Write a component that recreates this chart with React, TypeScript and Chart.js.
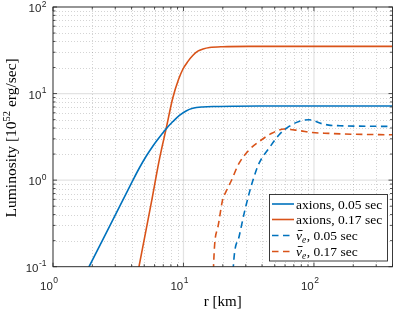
import React, { useEffect, useRef } from "react";
import { Chart, registerables } from "chart.js";

Chart.register(...registerables);

const BLUE = "#0072BD";
const ORANGE = "#D95319";

// axions, 0.05 sec
const axions005R = [1.6, 1.89, 2.9, 4.1, 4.6, 5.19, 5.75, 6.3, 7.4, 8.3, 9.31, 10.47, 11.78, 14.0, 17.8, 25.1, 40, 400];
const axions005L = [0.06, 0.1, 0.356, 1.0, 1.39, 1.9, 2.4, 2.9, 3.95, 4.75, 5.6, 6.3, 6.75, 7.0, 7.1, 7.15, 7.17, 7.17];

// axions, 0.17 sec
const axions017R = [4.3, 4.56, 5.66, 6.56, 7.38, 8.28, 9.16, 9.89, 10.79, 11.78, 12.88, 14.13, 15.85, 19.95, 31.6, 400];
const axions017L = [0.062, 0.1, 0.542, 1.78, 4.0, 8.9, 14.5, 19.1, 23.4, 27.5, 30.9, 32.7, 34.0, 34.8, 35.1, 35.1];

// anti-nu_e, 0.05 sec
const nue005R = [23.7, 24.1, 26.7, 29.2, 31.9, 34.8, 38.0, 45.3, 54.1, 64.4, 76.7, 91.6, 115.6, 130, 158, 400];
const nue005L = [0.05, 0.1, 0.223, 0.415, 0.708, 1.1, 1.57, 2.34, 3.34, 4.17, 4.76, 4.98, 4.48, 4.32, 4.25, 4.17];

// anti-nu_e, 0.17 sec
const nue017R = [16.9, 17.0, 18.3, 19.95, 21.4, 23.1, 26.7, 31.9, 38.0, 46.7, 59.0, 76.7, 97.0, 130, 200, 400];
const nue017L = [0.05, 0.1, 0.28, 0.59, 0.76, 0.964, 1.57, 2.24, 2.79, 3.43, 3.89, 3.74, 3.55, 3.47, 3.39, 3.34];

const xTickValues = [1, 10, 100];
const xTickExps = ["0", "1", "2"];
const yTickValues = [0.1, 1, 10, 100];
const yTickExps = ["-1", "0", "1", "2"];

const legendAxions = ["axions, 0.05 sec", "axions, 0.17 sec"];
const legendNuTimes = [", 0.05 sec", ", 0.17 sec"];
const nuSymbol = "\u03BD";
const nuSub = "e";

const xTitle = "r [km]";
const yTitleMain = "Luminosity [10";
const yTitleSup = "52";
const yTitleEnd = " erg/sec]";

const X_MIN = 1;
const X_MAX = 400;
const Y_MIN = 0.1;
const Y_MAX = 100;

const pts = (r: number[], L: number[]) => r.map((x, i) => ({ x, y: L[i] }));

const SANS = '"Liberation Sans", Arial, Helvetica, sans-serif';
const SERIF = '"Liberation Serif", "Times New Roman", serif';

export default function App() {
  const ref = useRef<HTMLCanvasElement>(null);

  useEffect(() => {
    const canvas = ref.current!;
    const decor = {
      id: "matlabDecor",
      beforeDatasetsDraw(chart: any) {
        const { ctx, chartArea: a, scales } = chart;
        const xs = scales.x;
        const ys = scales.y;
        ctx.save();
        // minor grid
        ctx.lineWidth = 1;
        ctx.strokeStyle = "rgba(38,38,38,0.2)";
        ctx.setLineDash([1, 2]);
        for (let d = -1; d <= 2; d++) {
          for (let k = 2; k <= 9; k++) {
            const v = k * Math.pow(10, d);
            if (v > X_MIN && v < X_MAX) {
              const px = Math.round(xs.getPixelForValue(v)) + 0.5;
              ctx.beginPath();
              ctx.moveTo(px, a.top);
              ctx.lineTo(px, a.bottom);
              ctx.stroke();
            }
            if (v > Y_MIN && v < Y_MAX) {
              const py = Math.round(ys.getPixelForValue(v)) + 0.5;
              ctx.beginPath();
              ctx.moveTo(a.left, py);
              ctx.lineTo(a.right, py);
              ctx.stroke();
            }
          }
        }
        // major grid
        ctx.setLineDash([]);
        ctx.strokeStyle = "rgba(38,38,38,0.13)";
        ctx.lineWidth = 1.2;
        xTickValues.forEach((v) => {
          const px = xs.getPixelForValue(v);
          ctx.beginPath();
          ctx.moveTo(px, a.top);
          ctx.lineTo(px, a.bottom);
          ctx.stroke();
        });
        yTickValues.forEach((v) => {
          const py = ys.getPixelForValue(v);
          ctx.beginPath();
          ctx.moveTo(a.left, py);
          ctx.lineTo(a.right, py);
          ctx.stroke();
        });
        ctx.restore();
      },
      afterDatasetsDraw(chart: any) {
        const { ctx, chartArea: a, scales } = chart;
        const xs = scales.x;
        const ys = scales.y;
        ctx.save();
        // ticks
        ctx.strokeStyle = "#262626";
        ctx.lineWidth = 0.8;
        ctx.setLineDash([]);
        const tick = (v: number, major: boolean, axis: "x" | "y") => {
          const len = major ? 4 : 2.5;
          ctx.beginPath();
          if (axis === "x") {
            const px = xs.getPixelForValue(v);
            ctx.moveTo(px, a.bottom);
            ctx.lineTo(px, a.bottom - len);
            ctx.moveTo(px, a.top);
            ctx.lineTo(px, a.top + len);
          } else {
            const py = ys.getPixelForValue(v);
            ctx.moveTo(a.left, py);
            ctx.lineTo(a.left + len, py);
            ctx.moveTo(a.right, py);
            ctx.lineTo(a.right - len, py);
          }
          ctx.stroke();
        };
        for (let d = -1; d <= 2; d++) {
          for (let k = 1; k <= 9; k++) {
            const v = k * Math.pow(10, d);
            if (v >= X_MIN && v <= X_MAX) tick(v, k === 1, "x");
            if (v >= Y_MIN && v <= Y_MAX) tick(v, k === 1, "y");
          }
        }
        // box
        ctx.strokeStyle = "#262626";
        ctx.lineWidth = 0.9;
        ctx.strokeRect(a.left, a.top, a.right - a.left, a.bottom - a.top);

        // tick labels
        ctx.fillStyle = "#262626";
        ctx.textBaseline = "alphabetic";
        const bigFont = `11.5px ${SANS}`;
        const supFont = `8.5px ${SANS}`;
        xTickValues.forEach((v, i) => {
          const px = xs.getPixelForValue(v);
          ctx.font = bigFont;
          ctx.textAlign = "left";
          const x0 = px - 13;
          ctx.fillText("10", x0, 290);
          const w = ctx.measureText("10").width;
          ctx.font = supFont;
          ctx.fillText(xTickExps[i], x0 + w + 0.5, 283);
        });
        yTickValues.forEach((v, i) => {
          const py = ys.getPixelForValue(v);
          ctx.font = supFont;
          ctx.textAlign = "right";
          const right = 46.5;
          ctx.fillText(yTickExps[i], right, py - 0.5);
          const ws = ctx.measureText(yTickExps[i]).width;
          ctx.font = bigFont;
          ctx.fillText("10", right - ws - 0.5, py + 5);
        });

        // x title
        ctx.font = `15px ${SERIF}`;
        ctx.textAlign = "center";
        ctx.fillStyle = "#000";
        ctx.fillText(xTitle, (a.left + a.right) / 2, 306);

        // y title
        ctx.save();
        ctx.translate(15.5, (a.top + a.bottom) / 2 + 1);
        ctx.rotate(-Math.PI / 2);
        ctx.textAlign = "left";
        const mainFont = `15.5px ${SERIF}`;
        const sFont = `10.5px ${SERIF}`;
        ctx.font = mainFont;
        const w1 = ctx.measureText(yTitleMain).width;
        const w3 = ctx.measureText(yTitleEnd).width;
        ctx.font = sFont;
        const w2 = ctx.measureText(yTitleSup).width;
        const total = w1 + w2 + w3;
        let cx = -total / 2;
        ctx.font = mainFont;
        ctx.fillText(yTitleMain, cx, 0);
        cx += w1;
        ctx.font = sFont;
        ctx.fillText(yTitleSup, cx, -6);
        cx += w2;
        ctx.font = mainFont;
        ctx.fillText(yTitleEnd, cx, 0);
        ctx.restore();

        // legend
        const lx0 = 269.5, lx1 = 387.5, ly0 = 194.5, ly1 = 261;
        ctx.fillStyle = "#fff";
        ctx.fillRect(lx0, ly0, lx1 - lx0, ly1 - ly0);
        ctx.strokeStyle = "#262626";
        ctx.lineWidth = 0.9;
        ctx.strokeRect(lx0, ly0, lx1 - lx0, ly1 - ly0);
        const rows = [204, 219.5, 235.5, 251.5];
        const colors = [BLUE, ORANGE, BLUE, ORANGE];
        rows.forEach((ry, i) => {
          ctx.strokeStyle = colors[i];
          ctx.lineWidth = 1.6;
          ctx.setLineDash(i >= 2 ? [6.5, 4.5] : []);
          ctx.beginPath();
          ctx.moveTo(272, ry);
          ctx.lineTo(294, ry);
          ctx.stroke();
          ctx.setLineDash([]);
          ctx.fillStyle = "#000";
          ctx.textAlign = "left";
          const tx = 296;
          const by = ry + 4.5;
          if (i < 2) {
            ctx.font = `13.5px ${SERIF}`;
            ctx.fillText(legendAxions[i], tx, by);
          } else {
            ctx.font = `italic 13.5px ${SERIF}`;
            ctx.fillText(nuSymbol, tx, by);
            const wn = ctx.measureText(nuSymbol).width;
            // macron (bar) over nu
            ctx.strokeStyle = "#000";
            ctx.lineWidth = 0.9;
            ctx.beginPath();
            ctx.moveTo(tx + 1.8, by - 9.5);
            ctx.lineTo(tx + wn + 0.6, by - 9.5);
            ctx.stroke();
            ctx.font = `italic 9.5px ${SERIF}`;
            ctx.fillText(nuSub, tx + wn, by + 2.5);
            const we = ctx.measureText(nuSub).width;
            ctx.font = `13.5px ${SERIF}`;
            ctx.fillText(legendNuTimes[i - 2], tx + wn + we + 0.5, by);
          }
        });
        ctx.restore();
      },
    };

    const common = {
      showLine: true,
      pointRadius: 0,
      borderWidth: 1.6,
      fill: false,
      cubicInterpolationMode: "monotone" as const,
    };

    const chart = new Chart(canvas, {
      type: "scatter",
      data: {
        datasets: [
          { ...common, label: "axions, 0.05 sec", data: pts(axions005R, axions005L), borderColor: BLUE },
          { ...common, label: "axions, 0.17 sec", data: pts(axions017R, axions017L), borderColor: ORANGE },
          { ...common, label: "nu_e, 0.05 sec", data: pts(nue005R, nue005L), borderColor: BLUE, borderDash: [6.5, 4.5] },
          { ...common, label: "nu_e, 0.17 sec", data: pts(nue017R, nue017L), borderColor: ORANGE, borderDash: [6.5, 4.5] },
        ],
      },
      options: {
        responsive: false,
        maintainAspectRatio: false,
        animation: false,
        devicePixelRatio: 1,
        events: [],
        layout: { padding: { left: 53, top: 7, right: 2.5, bottom: 44.3 } },
        scales: {
          x: { type: "logarithmic", min: X_MIN, max: X_MAX, display: false },
          y: { type: "logarithmic", min: Y_MIN, max: Y_MAX, display: false },
        },
        plugins: { legend: { display: false }, tooltip: { enabled: false } },
      },
      plugins: [decor],
    } as any);

    return () => chart.destroy();
  }, []);

  return (
    <div style={{ position: "fixed", left: 0, top: 0, width: 395, height: 311, background: "#fff" }}>
      <canvas ref={ref} width={395} height={311} style={{ width: 395, height: 311, display: "block" }} />
    </div>
  );
}
